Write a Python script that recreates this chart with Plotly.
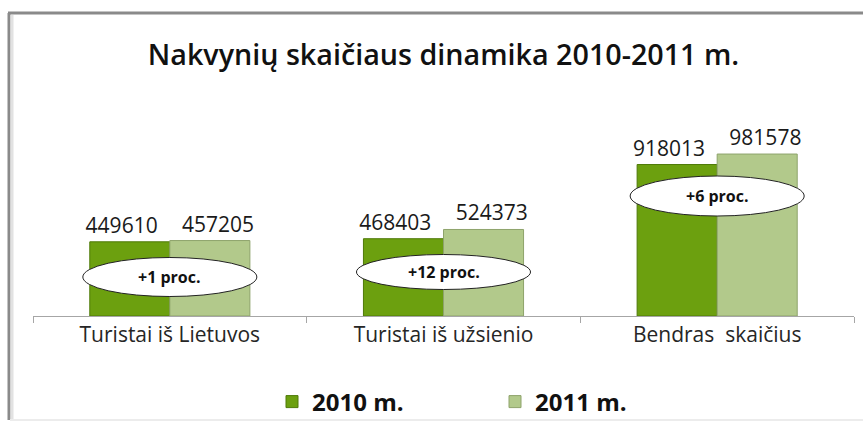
import plotly.graph_objects as go

# ---- data ----
categories = ["Turistai iš Lietuvos", "Turistai iš užsienio", "Bendras  skaičius"]
values_2010 = [449610, 468403, 918013]
values_2011 = [457205, 524373, 981578]
series_names = ["2010 m.", "2011 m."]
change_labels = ["+1 proc.", "+12 proc.", "+6 proc."]
title_text = "Nakvynių skaičiaus dinamika 2010-2011 m."

W, H = 863, 422
L, R, T, B = 33, 9, 118, 106
PW, PH = W - L - R, H - T - B
YMAX = 1200000
NB = "\u00a0"

def px_x(px):
    return (px - L) / PW

def px_y(py):
    return (H - B - py) / PH

fig = go.Figure()
fig.add_trace(go.Bar(
    x=categories, y=values_2010, name=series_names[0],
    marker=dict(color="#6ca00f", line=dict(color="#4f7a08", width=1)),
    text=[str(v) + NB * 3 for v in values_2010], textposition="outside",
    textfont=dict(family="Open Sans", size=21, color="#1a1a1a"),
    constraintext="none", cliponaxis=False,
))
fig.add_trace(go.Bar(
    x=categories, y=values_2011, name=series_names[1],
    marker=dict(color="#b2c98b", line=dict(color="#8ea36b", width=1)),
    text=[NB * 3 + str(v) for v in values_2011], textposition="outside",
    textfont=dict(family="Open Sans", size=21, color="#1a1a1a"),
    constraintext="none", cliponaxis=False,
))

shapes = []
# frame
shapes.append(dict(type="line", xref="paper", yref="paper",
                   x0=px_x(9), x1=px_x(9), y0=px_y(420), y1=px_y(13),
                   line=dict(color="#8a8a8a", width=3)))
shapes.append(dict(type="line", xref="paper", yref="paper",
                   x0=px_x(12), x1=px_x(12), y0=px_y(420), y1=px_y(15),
                   line=dict(color="#e2e2e2", width=3)))
shapes.append(dict(type="line", xref="paper", yref="paper",
                   x0=px_x(8), x1=px_x(870), y0=px_y(13), y1=px_y(13),
                   line=dict(color="#8a8a8a", width=3)))
shapes.append(dict(type="line", xref="paper", yref="paper",
                   x0=px_x(10), x1=px_x(870), y0=px_y(420), y1=px_y(420),
                   line=dict(color="#ececec", width=2)))

# ellipses with change labels (center px offsets relative to plot)
ell = [(0, 277, 19.5), (1, 272, 17.5), (2, 196, 20)]
annotations = []
for (ci, cy, hh), lab in zip(ell, change_labels):
    yc = (H - B - cy) / PH * YMAX
    dy = hh / PH * YMAX
    shapes.append(dict(type="circle", xref="x", yref="y",
                       x0=ci - 0.318, x1=ci + 0.318, y0=yc - dy, y1=yc + dy,
                       fillcolor="white", line=dict(color="#222222", width=1),
                       layer="above"))
    annotations.append(dict(x=ci, y=yc, xref="x", yref="y", text=lab,
                            showarrow=False,
                            font=dict(family="Open Sans", size=16, color="#111111", weight="bold")))

fig.update_layout(
    width=W, height=H,
    margin=dict(l=L, r=R, t=T, b=B, autoexpand=False),
    paper_bgcolor="white", plot_bgcolor="white",
    barmode="group", bargap=0.415, bargroupgap=0,
    title=dict(text=title_text, x=0.5, xref="paper", xanchor="center",
               y=1 - 55 / H, yref="container", yanchor="middle",
               font=dict(family="Open Sans", size=28.7, color="#111111", weight=600)),
    xaxis=dict(showline=True, linecolor="#a6a6a6", linewidth=1,
               ticks="outside", tickson="boundaries", ticklen=6, tickcolor="#a6a6a6",
               tickfont=dict(family="Open Sans", size=21, color="#262626"),
               showgrid=False, automargin=False),
    yaxis=dict(range=[0, YMAX], visible=False, showgrid=False, automargin=False),
    legend=dict(orientation="h", x=(312 - 40) / W, xanchor="left", xref="container",
                y=1 - 402 / H, yref="container", yanchor="middle",
                bgcolor="rgba(0,0,0,0)",
                entrywidth=178, entrywidthmode="pixels",
                font=dict(family="Open Sans", size=24, color="#111111", weight="bold")),
    shapes=shapes,
    annotations=annotations,
)

fig.write_html("out.html",
               config={"displayModeBar": False},
               post_script="document.body.style.margin='0';document.body.style.overflow='hidden';")
